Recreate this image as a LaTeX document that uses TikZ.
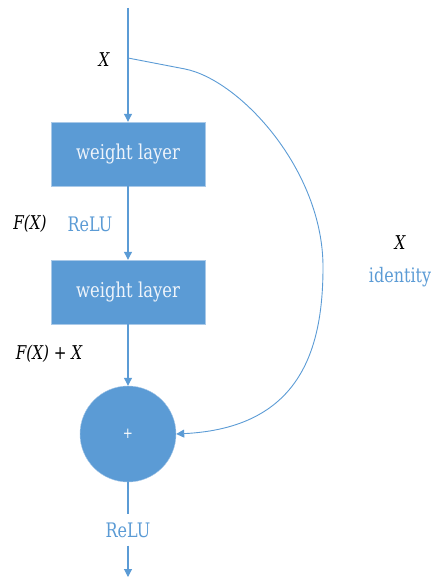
\documentclass[tikz,border=0pt]{standalone}
\usepackage{fontspec}
\setmainfont{DejaVu Serif}[FakeStretch=0.8]
\usetikzlibrary{arrows.meta}
\definecolor{resblue}{HTML}{5B9BD5}
\definecolor{resedge}{HTML}{A9C9E8}
\definecolor{restext}{HTML}{EEF4FB}
\begin{document}
\begin{tikzpicture}[x=1pt, y=-1pt,
        layer/.style={draw=resedge, fill=resblue, text=restext, minimum width=154pt, minimum height=64pt, font=\fontsize{20.5}{24}\selectfont},
        flow/.style={draw=resblue, line width=1.1pt, -{Triangle[length=8pt,width=8pt]}},
        lbl/.style={font=\fontsize{19}{22}\selectfont\itshape},
        note/.style={text=resblue, font=\fontsize{20}{24}\selectfont}]
    \useasboundingbox (0,0) rectangle (433,577);
    \coordinate (in) at (128,8);
    \coordinate (split) at (128,58);
    \coordinate (bend) at (185,69);
    \coordinate (far) at (323,267);
    \coordinate (out) at (128,577);
    \node[layer] (w1) at (128,154) {weight layer};
    \node[layer] (w2) at (128,292) {weight layer};
    \node[circle, draw=resedge, fill=resblue, text=white, minimum size=96pt, font=\fontsize{15}{18}\selectfont] (sum) at (128,434) {+};
    \node[note, inner sep=8pt] (relu2) at (128,530) {ReLU};
    \node[lbl] (xin) at (104,60) {X};
    \node[lbl] (fx) at (30,224) {F(X)};
    \node[note] (relu1) at (90,224) {ReLU};
    \node[lbl] (fxx) at (49,354) {F(X) {\upshape+} X};
    \node[lbl] (xid) at (400,243) {X};
    \node[note] (ident) at (400,277) {identity};
    \draw[flow] (in) -- (w1);
    \draw[flow] (w1) -- (w2);
    \draw[flow] (w2) -- (sum);
    \draw[draw=resblue, line width=1.1pt] (sum) -- (relu2);
    \draw[flow] (relu2) -- (out);
    \draw[flow, line width=0.9pt] (split) -- (bend) .. controls (240,80) and (323,170) .. (far) .. controls (323,350) and (300,428) .. (sum.east);
\end{tikzpicture}
\end{document}
